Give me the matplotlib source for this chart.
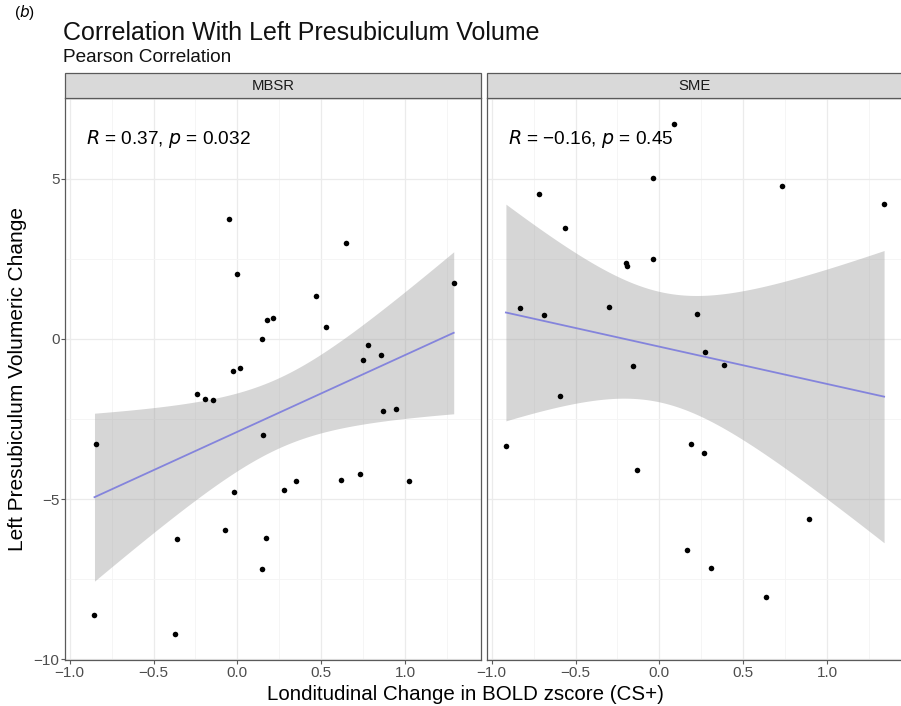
import numpy as np
import matplotlib
matplotlib.use("Agg")
import matplotlib.pyplot as plt
from matplotlib.patches import Rectangle

plt.rcParams['font.family'] = ['Liberation Sans', 'DejaVu Sans']

# ---- data ----
mbsr_x = [-0.05, 0.65, 0.0, 1.29, 0.47, 0.176, 0.215, 0.53, 0.144, 0.78, 0.75, 0.856,
          -0.026, 0.018, -0.24, -0.19, -0.146, 0.87, 0.947, 0.152, -0.84, 0.734, 0.35,
          0.62, 1.024, 0.276, -0.018, -0.071, -0.36, 0.168, 0.148, -0.852, -0.37]
mbsr_y = [3.74, 2.99, 2.02, 1.74, 1.34, 0.59, 0.67, 0.375, 0.0, -0.2, -0.65, -0.5,
          -0.99, -0.92, -1.73, -1.875, -1.92, -2.24, -2.2, -3.0, -3.27, -4.22, -4.43,
          -4.41, -4.43, -4.71, -4.78, -5.97, -6.25, -6.22, -7.19, -8.61, -9.23]
sme_x = [0.089, -0.04, 0.73, -0.72, 1.34, -0.56, -0.198, -0.19, -0.036, -0.83, -0.69,
         -0.30, 0.226, 0.27, 0.387, -0.159, -0.593, -0.915, 0.186, 0.268, -0.131, 0.89,
         0.163, 0.305, 0.633]
sme_y = [6.73, 5.03, 4.78, 4.52, 4.21, 3.47, 2.38, 2.28, 2.51, 0.96, 0.76, 1.01, 0.79,
         -0.42, -0.8, -0.84, -1.77, -3.35, -3.27, -3.56, -4.1, -5.63, -6.59, -7.16, -8.07]
panels = ["MBSR", "SME"]
labels = ["0.37, ", "0.032"], ["\u22120.16, ", "0.45"]
x_ticks = [-1.0, -0.5, 0.0, 0.5, 1.0]
x_ticklabels = ['\u22121.0', '\u22120.5', '0.0', '0.5', '1.0']
y_ticks = [-10, -5, 0, 5]
y_ticklabels = ['\u221210', '\u22125', '0', '5']

title = "Correlation With Left Presubiculum Volume"
subtitle = "Pearson Correlation"
xlabel = "Londitudinal Change in BOLD zscore (CS+)"
ylabel = "Left Presubiculum Volumeric Change"


def t_quant(df, z=1.959964):
    return (z + (z**3 + z) / (4 * df) + (5 * z**5 + 16 * z**3 + 3 * z) / (96 * df**2)
            + (3 * z**7 + 19 * z**5 + 17 * z**3 - 15 * z) / (384 * df**3))


def fit(x, y):
    x = np.asarray(x); y = np.asarray(y)
    n = len(x)
    b, a = np.polyfit(x, y, 1)
    res = y - (a + b * x)
    s = np.sqrt(np.sum(res**2) / (n - 2))
    xb = x.mean(); sxx = np.sum((x - xb)**2)
    xs = np.linspace(x.min(), x.max(), 200)
    yh = a + b * xs
    se = s * np.sqrt(1 / n + (xs - xb)**2 / sxx)
    t = t_quant(n - 2)
    return xs, yh, yh - t * se, yh + t * se


W, H = 901, 706
fig = plt.figure(figsize=(W / 100, H / 100), dpi=100)

allx = np.array(mbsr_x + sme_x); ally = np.array(mbsr_y + sme_y)
xr = allx.max() - allx.min(); yr = ally.max() - ally.min()
xlim = (allx.min() - 0.05 * xr, allx.max() + 0.05 * xr)
ylim = (ally.min() - 0.05 * yr, ally.max() + 0.05 * yr)

pw = 416 / W
ax_bot = 1 - 660 / H
ax_h = (660 - 98) / H
lefts = [65 / W, 487 / W]
strip_h = 25 / H

data = [(mbsr_x, mbsr_y), (sme_x, sme_y)]
spine_col = '#5a5a5a'
for i, (xd, yd) in enumerate(data):
    ax = fig.add_axes([lefts[i], ax_bot, pw, ax_h])
    ax.set_xlim(*xlim); ax.set_ylim(*ylim)
    ax.set_xticks(x_ticks)
    ax.set_xticks([-0.75, -0.25, 0.25, 0.75, 1.25], minor=True)
    ax.set_yticks(y_ticks)
    ax.set_yticks([-7.5, -2.5, 2.5, 7.5], minor=True)
    ax.grid(True, which='major', color='#ebebeb', lw=0.9)
    ax.grid(True, which='minor', color='#f4f4f4', lw=0.6)
    ax.set_axisbelow(True)
    ax.tick_params(which='minor', length=0)
    ax.tick_params(which='major', length=3, width=0.8, color=spine_col,
                   labelsize=11, labelcolor='#4d4d4d', pad=1.0)
    ax.set_xticklabels(x_ticklabels)
    ax.set_yticklabels(y_ticklabels)
    if i == 1:
        ax.tick_params(axis='y', left=False, labelleft=False)
    for sp in ax.spines.values():
        sp.set_color(spine_col); sp.set_linewidth(0.9)

    xs, yh, lo, hi = fit(xd, yd)
    ax.fill_between(xs, lo, hi, color='#999999', alpha=0.4, lw=0, zorder=2)
    ax.plot(xs, yh, color='#8484dc', lw=1.3, zorder=3)
    ax.scatter(xd, yd, s=16, color='black', lw=0, zorder=4)

    r_lab, p_lab = labels[i]
    ax.text(-0.905, 6.25, r"$R$ = " + r_lab + r"$p$ = " + p_lab, fontsize=13.7,
            va='center', ha='left', color='black', zorder=5)

    # strip
    fig.patches.append(Rectangle((lefts[i], ax_bot + ax_h), pw, strip_h,
                                 transform=fig.transFigure, facecolor='#d9d9d9',
                                 edgecolor=spine_col, lw=0.9, zorder=3))
    fig.text(lefts[i] + pw / 2, ax_bot + ax_h + strip_h / 2, panels[i],
             ha='center', va='center', fontsize=10.7, color='#1a1a1a')

fig.text(14 / W, 1 - 13 / H, "($b$)", fontsize=11, va='center', ha='left')
fig.text(63 / W, 1 - 33 / H, title, fontsize=18, va='center', ha='left', color='#111111')
fig.text(63 / W, 1 - 57 / H, subtitle, fontsize=13.7, va='center', ha='left', color='#111111')
fig.text(465 / W, 1 - 694 / H, xlabel, fontsize=14.8, ha='center', va='center')
fig.text(18 / W, ax_bot + ax_h / 2, ylabel, fontsize=15, rotation=90,
         ha='center', va='center')

fig.savefig('out.png', dpi=100)
